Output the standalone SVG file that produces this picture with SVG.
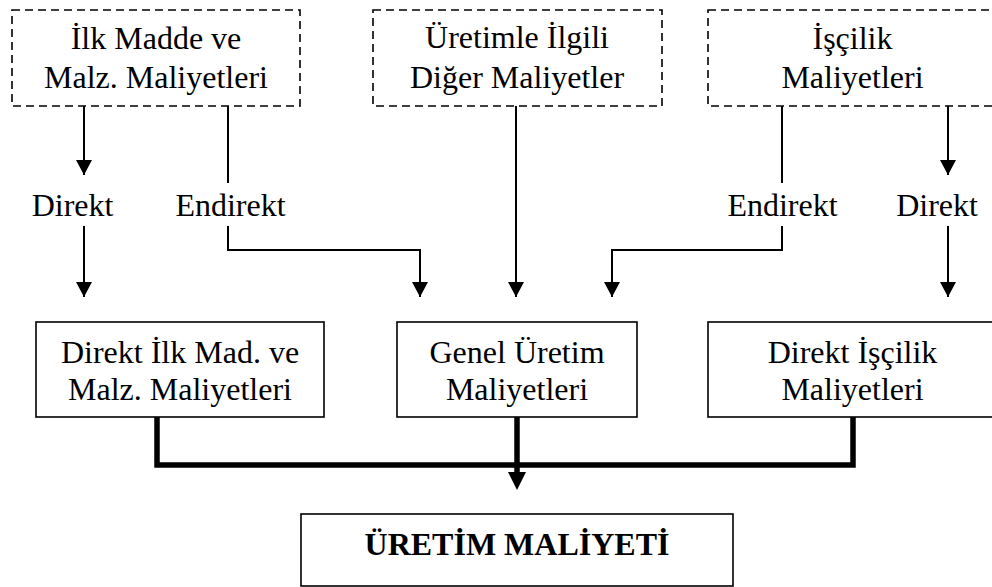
<svg xmlns="http://www.w3.org/2000/svg" width="992" height="587" viewBox="0 0 992 587">
  <style>
    text { font-family: "Liberation Serif", Tinos, "Times New Roman", "DejaVu Serif", serif; font-size: 32px; font-weight: normal; fill: #000; text-anchor: middle; }
    text.title { font-weight: bold; }
    .src { fill: #fff; stroke: #000; stroke-width: 1.6; stroke-dasharray: 8 5; }
    .box { fill: #fff; stroke: #000; stroke-width: 1.6; }
    .wire { fill: none; stroke: #000; stroke-width: 2; }
    .arrow { fill: none; stroke: #000; stroke-width: 2; marker-end: url(#head); }
    .trunk { fill: none; stroke: #000; stroke-width: 5.5; }
  </style>
  <defs>
    <!-- tip sits on the line end -->
    <marker id="head" markerUnits="userSpaceOnUse" markerWidth="15" markerHeight="16" viewBox="0 0 15 16" refX="15" refY="8" orient="auto">
      <path d="M0 0 L15 8 L0 16 Z" fill="#000"/>
    </marker>
    <!-- base sits on the line end -->
    <marker id="headBig" markerUnits="userSpaceOnUse" markerWidth="18" markerHeight="18" viewBox="0 0 18 18" refX="0" refY="9" orient="auto">
      <path d="M0 0 L18 9 L0 18 Z" fill="#000"/>
    </marker>
  </defs>
  <rect width="992" height="587" fill="#fff"/>

  <!-- cost sources -->
  <g id="ilk-madde">
    <rect class="src" x="12" y="10" width="288" height="96"/>
    <text x="156" y="49">İlk Madde ve</text>
    <text x="156" y="88">Malz. Maliyetleri</text>
  </g>
  <g id="diger">
    <rect class="src" x="373" y="10" width="289" height="96"/>
    <text x="517" y="48">Üretimle İlgili</text>
    <text x="517" y="88">Diğer Maliyetler</text>
  </g>
  <g id="iscilik">
    <rect class="src" x="708" y="10" width="289" height="96"/>
    <text x="852.5" y="49">İşçilik</text>
    <text x="852.5" y="88">Maliyetleri</text>
  </g>

  <!-- direct / indirect labels -->
  <g id="labels">
    <text x="72.5" y="216">Direkt</text>
    <text x="230.5" y="216">Endirekt</text>
    <text x="782.5" y="216">Endirekt</text>
    <text x="937" y="216">Direkt</text>
  </g>

  <!-- cost groups -->
  <g id="direkt-ilk-madde">
    <rect class="box" x="36" y="322" width="288" height="95"/>
    <text x="180" y="363">Direkt İlk Mad. ve</text>
    <text x="180" y="400">Malz. Maliyetleri</text>
  </g>
  <g id="genel-uretim">
    <rect class="box" x="397" y="322" width="240" height="95"/>
    <text x="517" y="363">Genel Üretim</text>
    <text x="517" y="400">Maliyetleri</text>
  </g>
  <g id="direkt-iscilik">
    <rect class="box" x="708" y="322" width="289" height="95"/>
    <text x="852.5" y="363">Direkt İşçilik</text>
    <text x="852.5" y="400">Maliyetleri</text>
  </g>

  <g id="uretim-maliyeti">
    <rect class="box" x="301" y="514" width="432" height="72"/>
    <text class="title" x="517" y="555">ÜRETİM  MALİYETİ</text>
  </g>

  <!-- connectors -->
  <g id="connectors">
    <path class="arrow" d="M84 106 V175"/>
    <path class="arrow" d="M84 226 V297"/>
    <path class="wire" d="M228 106 V183"/>
    <path class="arrow" d="M228 226 V250 H420 V297"/>
    <path class="arrow" d="M516 106 V297"/>
    <path class="wire" d="M782 106 V183"/>
    <path class="arrow" d="M782 226 V250 H612 V297"/>
    <path class="arrow" d="M948 106 V175"/>
    <path class="arrow" d="M948 226 V297"/>
    <path class="trunk" d="M157 417 V465 H853 V417"/>
    <path class="trunk" d="M517 417 V472" marker-end="url(#headBig)"/>
  </g>
</svg>
